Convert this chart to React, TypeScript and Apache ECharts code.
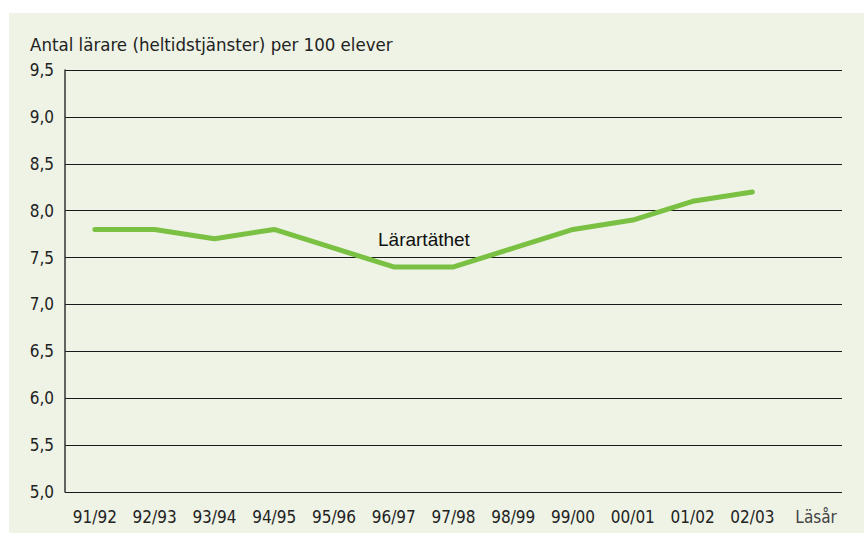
import React, { useEffect, useRef } from "react";
import * as echarts from "echarts";

const categories = ["91/92", "92/93", "93/94", "94/95", "95/96", "96/97", "97/98", "98/99", "99/00", "00/01", "01/02", "02/03", "Läsår"];
const values: (number | null)[] = [7.8, 7.8, 7.7, 7.8, 7.6, 7.4, 7.4, 7.6, 7.8, 7.9, 8.1, 8.2, null];
const yTitle = "Antal lärare (heltidstjänster) per 100 elever";
const seriesName = "Lärartäthet";

const FONT = "'Liberation Sans Narrow', 'DejaVu Sans Condensed', 'Roboto Condensed', sans-serif";

export default function App() {
  const ref = useRef<HTMLDivElement>(null);
  useEffect(() => {
    if (!ref.current) return;
    const chart = echarts.init(ref.current, undefined, { renderer: "svg" });
    chart.setOption({
      animation: false,
      backgroundColor: "#ffffff",
      graphic: [
        { type: "rect", z: -10, shape: { x: 9, y: 13, width: 855, height: 520 }, style: { fill: "#eef3e5" } },
        { type: "text", left: 30, top: 35, style: { text: yTitle, font: `18.5px ${FONT}`, fill: "#222" } },
        { type: "text", left: 378, top: 230, style: { text: seriesName, font: "19px 'Liberation Sans', Arial, sans-serif", fill: "#111" } },
      ],
      grid: { left: 65, right: 22, top: 70, bottom: 41 },
      xAxis: {
        type: "category",
        data: categories,
        boundaryGap: true,
        axisLine: { show: false },
        axisTick: { show: false },
        axisLabel: {
          margin: 16,
          fontSize: 17,
          fontFamily: FONT,
          color: "#222",
          interval: 0,
          formatter: (v: string) => (v === "Läsår" ? "{l|" + v + "}" : v),
          rich: { l: { fontSize: 17, fontFamily: FONT, color: "#444", padding: [0, 0, 0, 8] } },
        },
      },
      yAxis: {
        type: "value",
        min: 5,
        max: 9.5,
        interval: 0.5,
        axisLine: { show: true, lineStyle: { color: "#333", width: 1.5 } },
        axisTick: { show: false },
        splitLine: { show: true, lineStyle: { color: "#1a1a1a", width: 1.2 } },
        axisLabel: {
          margin: 11,
          fontSize: 17,
          fontFamily: FONT,
          color: "#222",
          formatter: (v: number) => v.toFixed(1).replace(".", ","),
        },
      },
      series: [
        {
          name: seriesName,
          type: "line",
          data: values,
          symbol: "none",
          lineStyle: { color: "#7ac143", width: 5, cap: "round", join: "round" },
        },
      ],
    });
    return () => chart.dispose();
  }, []);
  return <div ref={ref} style={{ position: "fixed", left: 0, top: 0, width: 864, height: 533 }} />;
}
